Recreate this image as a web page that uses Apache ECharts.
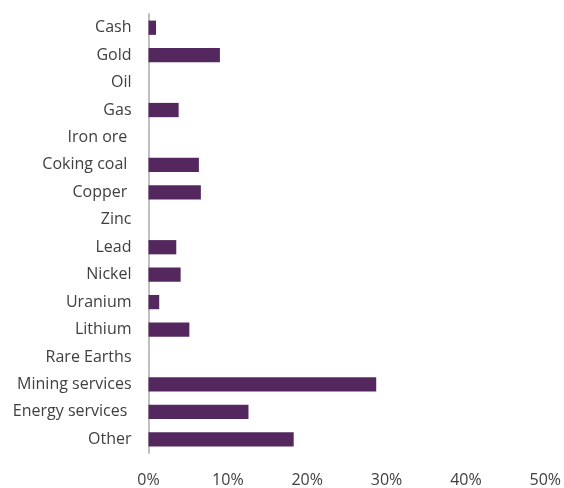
<!DOCTYPE html>
<html><head><meta charset="utf-8">
<script src="https://cdn.jsdelivr.net/npm/echarts@6/dist/echarts.min.js"></script>
<style>html,body{margin:0;padding:0;background:#fff}#c{width:564px;height:488px}</style>
</head><body><div id="c"></div>
<script>
const categories = ['Cash','Gold','Oil','Gas','Iron ore ','Coking coal ','Copper ','Zinc','Lead','Nickel','Uranium','Lithium','Rare Earths','Mining services','Energy services ','Other'];
const values = [0.95, 9.0, 0, 3.8, 0, 6.35, 6.6, 0, 3.5, 4.05, 1.35, 5.15, 0, 28.7, 12.6, 18.3];
const xTicks = {min: 0, max: 50, interval: 10};
const chart = echarts.init(document.getElementById('c'));
const font = '"Open Sans", "Segoe UI", sans-serif';
chart.setOption({
  animation: false,
  grid: {left: 148.5, right: 17.5, top: 14, bottom: 31, containLabel: false},
  xAxis: {type: 'value', min: xTicks.min, max: xTicks.max, interval: xTicks.interval,
    axisLine: {show: false}, axisTick: {show: false}, splitLine: {show: false},
    axisLabel: {formatter: '{value}%', color: '#404040', fontSize: 16, fontFamily: font, margin: 19}},
  yAxis: {type: 'category', data: categories, inverse: true,
    axisLine: {show: true, lineStyle: {color: '#bfbfbf', width: 2}}, axisTick: {show: false},
    axisLabel: {color: '#404040', fontSize: 16, fontFamily: font, margin: 17}},
  series: [{type: 'bar', data: values, barWidth: '52%', itemStyle: {color: '#54285f'}}]
});
</script></body></html>
